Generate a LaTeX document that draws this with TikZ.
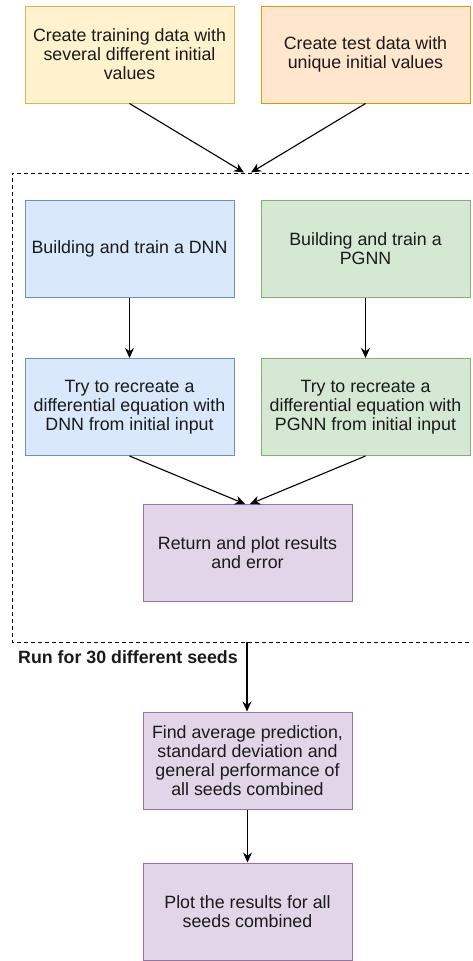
\documentclass[tikz,border=0pt]{standalone}
\usepackage{fontspec}
\setmainfont{Liberation Sans}
\usetikzlibrary{arrows.meta}
\definecolor{ylwfill}{HTML}{FFF2CC}\definecolor{ylwline}{HTML}{D6B656}
\definecolor{orgfill}{HTML}{FFE6CC}\definecolor{orgline}{HTML}{D79B00}
\definecolor{blufill}{HTML}{DAE8FC}\definecolor{bluline}{HTML}{6C8EBF}
\definecolor{grnfill}{HTML}{D5E8D4}\definecolor{grnline}{HTML}{82B366}
\definecolor{prpfill}{HTML}{E1D5E7}\definecolor{prpline}{HTML}{9673A6}
\definecolor{txt}{HTML}{1A1A1A}
\tikzset{
  box/.style={draw, line width=1pt, minimum width=209pt, minimum height=97pt,
    inner sep=0pt, align=center, text=txt,
    font=\fontsize{17.8}{19}\selectfont},
  ybox/.style={box, fill=ylwfill, draw=ylwline},
  obox/.style={box, fill=orgfill, draw=orgline},
  bbox/.style={box, fill=blufill, draw=bluline},
  gbox/.style={box, fill=grnfill, draw=grnline},
  pbox/.style={box, fill=prpfill, draw=prpline},
  flow/.style={line width=1.1pt, -{Stealth[length=10pt,width=9pt]}},
  loopframe/.style={line width=1pt, dash pattern=on 4pt off 3pt}
}
\begin{document}
\begin{tikzpicture}[x=1pt,y=-1pt]
\useasboundingbox (0,0) rectangle (472,961);
\clip (0,0) rectangle (472,961);
\fill[white] (0,0) rectangle (472,961);

% repeated block: one run per seed
\draw[loopframe] (490,173) -- (12,173) -- (12,642) -- (490,642);
\coordinate (inL) at (244,172.5);
\coordinate (inR) at (251,172.5);
\coordinate (out) at (247,642);

% data preparation
\node[ybox] (train) at (129.5,54.5) {Create training data with\\several different initial\\values};
\node[obox] (test) at (365.5,54.5) {Create test data with\\unique initial values};

% models
\node[bbox] (dnn) at (129.5,248.5) {Building and train a DNN};
\node[gbox] (pgnn) at (365.5,248.5) {Building and train a\\PGNN};
\node[bbox] (dnnrec) at (129.5,407) {Try to recreate a\\differential equation with\\DNN from initial input};
\node[gbox] (pgnnrec) at (365.5,407) {Try to recreate a\\differential equation with\\PGNN from initial input};
\node[pbox] (ret) at (247.5,553) {Return and plot results\\and error};

\node[anchor=west, inner sep=0pt, text=txt, font=\fontsize{17.8}{19}\selectfont\bfseries] (seeds) at (18,657) {Run for 30 different seeds};

% aggregation
\node[pbox] (avg) at (247.5,760.5) {Find average prediction,\\standard deviation and\\general performance of\\all seeds combined};
\node[pbox] (plot) at (247.5,911.5) {Plot the results for all\\seeds combined};

% connectors
\draw[flow] (train.south) -- (inL);
\draw[flow] (test.south) -- (inR);
\draw[flow] (dnn) -- (dnnrec);
\draw[flow] (pgnn) -- (pgnnrec);
\draw[flow] (dnnrec.south) -- ([xshift=-2.5pt]ret.north);
\draw[flow] (pgnnrec.south) -- ([xshift=2.5pt]ret.north);
\draw[flow] (out) -- (out |- avg.north);
\draw[flow] (avg) -- (plot);
\end{tikzpicture}
\end{document}
